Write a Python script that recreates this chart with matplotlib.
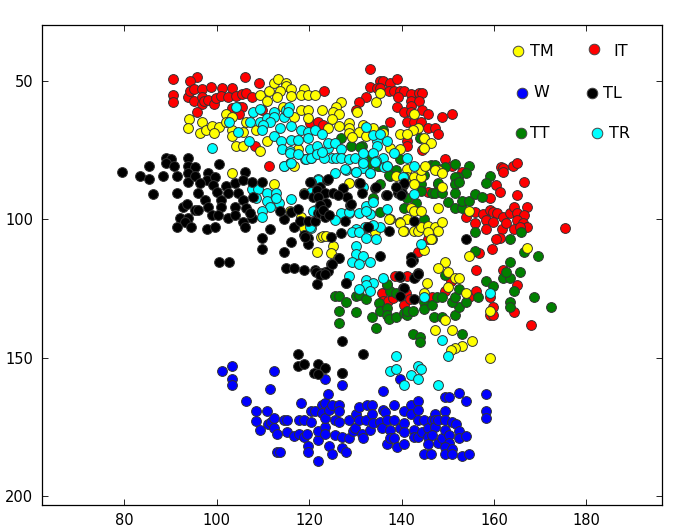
import matplotlib
matplotlib.use('Agg')
from matplotlib import pyplot as plt

it_x = [90.6, 95.8, 94.3, 106.2, 109.2, 90.6, 90.6, 93.7, 94.2, 95.1, 96.9, 98.8, 101.2, 103.2, 95.1, 96.7, 96.7, 97.2,
        98.1, 99.4, 99.9, 101.0, 102.5, 104.2, 105.5, 106.4, 107.7, 95.8, 103.2, 104.8, 105.5, 104.8, 109.9, 108.3,
        111.4, 123.3, 120.1, 122.0, 123.0,
        133.2, 133.2, 135.4, 136.1, 137.5, 139.1, 134.7, 135.4, 137.4, 138.4, 139.7, 140.6, 139.2, 142.1, 143.7, 144.4,
        142.1, 143.7, 142.1, 132.4, 130.9, 130.1, 139.1, 140.6, 142.1, 144.4, 145.7, 148.8, 150.9, 137.6, 141.2, 142.7,
        144.2, 145.8, 147.3, 148.0, 141.2, 141.2, 144.4, 149.4, 150.9, 153.2, 161.6, 162.0, 162.0, 164.2, 165.0, 166.5,
        160.4, 161.3, 165.0, 159.1, 154.0, 156.0, 156.0, 157.7, 159.1, 159.9, 160.6, 162.0, 158.4, 159.9, 158.4, 161.8,
        162.7, 163.4, 164.3, 167.2, 165.0, 166.5, 165.0, 164.3, 166.3, 167.2, 165.6, 161.3, 160.4, 156.8, 159.7, 145.7,
        145.8, 143.5, 175.4,
        138.6, 141.1, 135.7, 135.9, 137.1, 138.2, 140.5, 141.0, 141.8, 146.5, 149.4, 150.8, 154.7, 156.1, 156.1, 161.9,
        165.0, 159.1, 159.9, 159.1, 159.9, 164.3, 168.0]
it_y = [49.4, 48.7, 50.2, 48.7, 50.8, 55.2, 57.7, 55.9, 53.8, 52.9, 53.0, 52.3, 52.4, 52.4, 57.1, 55.9, 58.4, 57.1,
        56.9, 58.4, 56.3, 55.3, 56.0, 55.3, 54.6, 54.4, 55.9, 61.3, 59.9, 59.3, 59.3, 62.0, 60.7, 73.5,
        80.6, 53.8, 65.3, 64.9, 65.9,
        45.8, 52.3, 50.2, 50.2, 50.8, 49.4, 52.6, 52.6, 53.8, 53.8, 53.5, 53.5, 55.7, 54.8, 54.4, 54.4,
        57.1, 57.1, 58.9, 55.9, 57.7, 60.5, 59.3, 61.3, 61.3, 60.7, 62.0, 62.9, 62.0, 64.9, 64.9, 64.9,
        64.9, 67.1, 67.1, 69.3, 71.9, 73.5, 74.9, 78.3, 80.6, 82.8, 81.0, 81.6, 83.0, 80.6, 79.7, 86.4,
        87.6, 90.3, 91.2, 92.4, 99.1, 97.3, 101.5, 98.2, 96.7, 97.3, 97.6, 99.1, 100.3, 101.1, 103.5, 103.5,
        101.5, 97.6, 95.5, 95.5, 97.6, 98.5, 100.3, 103.5, 101.5, 102.7, 102.7, 106.9, 107.3, 112.3, 110.9, 90.3,
        107.3, 111.7, 103.0,
        120.5, 120.5, 126.5, 129.4, 129.4, 128.6, 131.0, 126.7, 128.9, 128.2, 125.8, 122.2, 128.2, 125.8, 118.3, 118.3,
        123.7, 128.2, 131.6, 134.6, 134.6, 133.7, 138.4]

w_x = [101.1, 103.3, 103.3, 103.3, 112.4, 111.5, 106.4, 108.5, 110.8, 108.5, 109.4, 111.0, 111.7, 112.4, 112.4, 113.1,
       113.1, 113.7, 114.6, 115.3, 115.3, 116.7, 117.7, 117.7, 118.3, 118.9, 118.9, 119.6, 120.4, 120.4, 121.3, 119.7,
       119.7, 121.9, 121.9, 121.9, 122.7, 122.7, 123.5, 123.5, 123.5, 123.5, 124.1, 124.2, 124.9, 124.2, 124.9, 125.6,
       126.4, 126.5, 126.5, 125.6, 127.1, 127.1, 127.9, 127.1, 123.5, 128.7, 128.7, 129.4, 130.0, 130.2, 130.8, 130.8,
       131.5, 131.6, 132.3, 132.5, 133.6, 133.6, 133.2, 133.8, 135.4, 135.7, 135.9, 135.9, 136.4, 136.8, 136.8, 137.5,
       137.5, 138.4, 138.4, 138.4, 139.0, 139.7, 139.7, 140.6, 140.6, 140.6, 140.6, 142.1, 142.1, 142.7, 142.7, 143.6,
       143.6, 143.6, 143.6, 144.4, 144.9, 144.9, 145.8, 145.8, 145.8, 146.4, 146.5, 147.3, 147.3, 147.3, 146.5, 148.0,
       148.0, 148.7, 149.4, 149.4, 149.4, 149.4, 150.2, 150.2, 150.2, 149.4, 149.4, 151.0, 151.0, 150.9, 151.7, 152.5,
       152.5, 152.5, 154.0, 154.0, 153.2, 154.7, 158.3, 158.3, 158.3]
w_y = [154.9, 153.1, 157.9, 160.0, 154.9, 161.5, 165.8, 169.4, 169.4, 173.0, 176.2, 174.1, 173.2, 172.0, 175.6, 177.8,
       184.3, 184.3, 172.6, 172.6, 176.8, 178.4, 172.6, 177.8, 166.4, 172.6, 178.9, 177.8, 173.2, 169.4, 169.4, 182.0,
       184.3, 179.8, 176.5, 187.4, 167.2, 170.2, 166.4, 175.0, 177.7, 172.0, 163.0, 169.0, 167.2, 182.0, 185.0, 172.6,
       167.2, 169.4, 173.2, 178.0, 178.6, 182.6, 184.3, 160.0, 157.9, 172.6, 179.2, 176.5, 175.6, 170.4, 167.8, 172.6,
       177.8, 179.2, 172.6, 167.2, 167.2, 170.4, 176.2, 173.6, 173.2, 175.6, 169.0, 162.1, 169.6, 172.6, 181.4, 176.2,
       179.2, 167.2, 172.6, 179.2, 182.3, 157.8, 175.6, 169.4, 173.6, 176.8, 181.4, 167.2, 170.4, 176.2, 178.6, 165.8,
       168.8, 172.6, 178.9, 176.8, 172.6, 185.0, 175.3, 178.6, 181.4, 185.0, 172.6, 170.4, 172.6, 175.0, 178.0, 181.0,
       172.6, 179.2, 169.4, 172.6, 176.2, 164.4, 164.4, 178.0, 181.0, 182.3, 185.0, 182.9, 185.0, 173.2, 174.1, 162.7,
       176.5, 179.2, 165.8, 178.4, 185.6, 185.0, 163.0, 169.4, 172.0]

tt_x = [126.9, 129.0, 131.4, 136.0, 144.0, 139.7, 135.2, 133.2, 137.5, 138.9, 144.2, 146.4, 147.2, 149.5, 151.6, 154.7,
        153.9, 152.3, 151.6, 151.6, 152.4, 159.1, 158.3, 147.9, 144.8, 135.3, 131.0, 132.8, 135.0,
        151.6, 147.9, 146.5, 147.3, 144.2, 141.2, 140.5, 143.1, 137.3, 133.9, 135.3, 144.8, 148.7, 150.1, 151.6, 153.1,
        153.1, 154.6, 156.0, 157.5, 156.0, 163.5, 165.8, 146.7, 156.0, 166.6, 169.6, 163.5, 165.6, 161.9, 163.5, 162.7,
        164.3, 168.7, 136.8, 137.5,
        125.6, 126.4, 128.0, 126.4, 126.4, 130.1, 130.1, 130.8, 132.3, 133.7, 134.5, 135.2, 135.3, 136.9, 138.9, 136.9,
        136.9, 137.3, 138.9, 140.5, 141.2, 141.2, 142.5, 144.9, 144.9, 146.5, 147.6, 148.7, 147.0, 148.8, 151.6, 152.5,
        150.9, 151.6, 152.4, 153.9, 156.6, 158.3, 159.9, 163.5, 163.5, 172.4, 153.1, 142.5, 144.1, 144.0, 149.4]
tt_y = [70.7, 73.5, 73.5, 67.7, 70.8, 78.3, 80.7, 79.8, 84.3, 82.2, 87.2, 80.4, 80.4, 81.2, 79.9, 80.6,
        83.4, 84.8, 84.8, 87.2, 86.7, 84.2, 87.0, 87.2, 84.0, 87.2, 74.0, 77.3, 80.7,
        90.4, 87.0, 90.4, 90.4, 89.7, 92.4, 96.0, 94.2, 84.0, 92.4, 97.5, 99.9, 90.4, 93.6, 96.0, 96.0,
        93.3, 93.3, 91.0, 91.8, 104.7, 107.3, 104.7, 107.3, 111.5, 111.7, 113.2, 115.3, 118.9, 121.1, 121.1, 118.9,
        125.8, 128.0, 123.8, 125.8,
        127.9, 127.9, 130.1, 133.0, 137.4, 133.7, 127.9, 127.4, 128.7, 135.2, 139.4, 130.4, 133.0, 123.4, 126.7, 132.2,
        134.6, 136.1, 135.2, 134.0, 134.6, 133.0, 133.0, 129.8, 132.4, 131.0, 128.2, 128.2, 135.2, 135.2, 134.6, 131.6,
        130.1, 128.0, 125.3, 129.8, 128.0, 122.2, 124.3, 130.1, 131.6, 131.6, 141.4, 141.4, 142.7, 144.3, 120.1]

tm_x = [93.9, 93.7, 96.8, 96.3, 97.6, 98.9, 100.4, 99.5, 102.0, 103.3, 102.0, 103.3, 103.3, 106.3, 105.6, 108.5, 104.1,
        105.6, 109.3, 110.8, 103.3, 112.3, 109.3, 110.8, 111.4, 112.3, 113.3, 115.0, 115.1, 113.7, 116.1, 118.8, 116.1,
        118.2, 119.7, 121.2, 113.0, 114.4, 116.8, 118.2, 119.7, 119.7, 122.8, 127.0, 125.8, 125.2, 126.4, 124.9, 130.3,
        134.5, 135.3, 124.0, 126.4, 128.6, 128.6, 128.6, 131.7, 130.8, 132.4, 129.2, 117.6, 116.8,
        142.7, 143.5, 142.5, 139.7, 141.2, 144.8, 146.4, 144.8, 139.7, 137.5, 133.9, 136.0, 141.2, 141.2, 142.7, 144.2,
        144.2, 145.1, 147.9, 147.2, 148.8, 138.9, 142.7, 148.8, 128.7, 142.0, 142.7, 144.2, 147.9, 154.6, 137.5, 139.7,
        141.2, 140.5, 142.7, 143.5, 144.2, 145.7, 147.2, 148.7, 148.0, 145.7, 146.4, 144.9, 154.6, 167.2, 149.5, 147.9,
        150.0, 151.6, 152.5, 150.0, 145.6, 153.9, 144.8,
        159.1, 149.4, 147.2, 150.9, 155.2, 153.1, 151.6, 150.8, 159.1,
        118.8, 115.8, 118.2, 118.8, 122.6, 123.1, 123.7, 125.2, 121.8, 124.8, 126.3, 137.4, 139.6, 140.3, 134.3]
tm_y = [63.6, 67.2, 64.9, 68.7, 67.9, 66.3, 66.5, 68.7, 62.0, 62.9, 64.7, 67.7, 70.1, 64.9, 68.5, 67.7, 73.4,
        73.4, 75.5, 71.6, 83.4, 87.1, 55.2, 57.1, 53.8, 50.8, 49.4, 50.8, 52.0, 53.8, 53.0, 53.0, 55.4,
        55.2, 55.2, 55.2, 55.9, 59.3, 62.9, 60.7, 60.7, 63.5, 60.7, 57.8, 59.3, 61.3, 62.0, 63.6, 61.3,
        57.7, 54.4, 67.2, 66.3, 65.3, 67.2, 68.9, 65.9, 68.5, 70.1, 70.4, 74.7, 80.6,
        62.0, 67.2, 67.9, 69.3, 69.3, 70.8, 72.3, 74.1, 74.7, 74.1, 67.2, 68.7, 81.9, 84.8, 84.8, 84.8,
        82.2, 80.7, 82.2, 82.2, 83.4, 84.2, 87.2, 88.2, 87.0, 96.0, 96.9, 96.9, 96.0, 96.9, 99.9, 101.1,
        99.9, 104.1, 104.1, 104.1, 102.7, 102.3, 102.7, 101.1, 104.1, 104.7, 107.3, 111.1, 113.2, 110.3, 115.3, 117.5,
        118.9, 121.1, 121.1, 124.4, 122.9, 126.5, 126.5,
        133.0, 136.6, 140.0, 140.0, 144.2, 145.8, 146.4, 147.2, 150.1,
        90.6, 96.9, 99.1, 103.3, 106.6, 106.1, 106.1, 109.7, 111.7, 112.3, 113.9, 99.8, 101.2, 104.1, 104.6]

tr_x = [98.9, 104.2, 102.6, 104.7, 107.0, 107.8, 109.3, 107.1, 109.3, 110.8, 112.4, 112.4, 111.5, 110.1, 109.9, 113.7,
        112.4, 114.0, 114.2, 114.5, 115.0, 115.7, 115.5, 116.1, 118.2, 119.7, 121.2, 122.8, 119.7, 116.0, 117.6, 115.8,
        114.5, 115.8, 119.2, 120.3, 120.2, 121.8, 121.6, 124.0, 124.0, 125.6, 127.0, 124.9, 125.9, 127.0, 128.6, 130.0,
        131.7, 132.4, 134.6, 133.9, 135.3, 134.6, 133.9, 136.0, 131.7, 128.0, 130.1, 131.7, 133.2, 136.2,
        136.9, 138.4, 134.5, 136.9, 141.2, 142.7, 140.5, 142.7,
        136.8, 132.3, 133.9, 133.2, 130.8, 128.6, 127.0, 132.3, 135.3, 133.9, 132.1, 130.1, 129.2, 130.8, 132.3, 134.5,
        130.1, 130.1, 131.6, 129.2, 130.8, 133.2, 144.2, 128.6, 132.3, 133.9, 132.3, 133.2, 130.8, 136.0, 144.9, 159.2,
        138.9, 137.5, 138.9, 143.5, 144.2, 142.0, 143.5, 140.5, 147.9, 150.0, 148.7,
        107.7, 109.0, 110.8, 112.9, 108.6, 110.8, 113.4, 111.5, 109.7, 109.8, 112.9, 116.0, 114.5, 116.0, 119.4, 120.4,
        121.8, 115.8, 117.6, 122.0, 120.3, 121.2, 120.3, 123.2, 122.7, 120.8, 120.1, 121.9, 125.5, 127.8, 130.1, 133.1,
        131.7, 134.3, 136.9, 140.3, 131.7, 128.6, 125.5]
tr_y = [74.1, 59.3, 64.9, 68.5, 71.6, 61.3, 60.0, 64.9, 64.9, 63.5, 61.3, 62.9, 64.9, 66.1, 67.7, 67.2,
        70.1, 71.6, 74.7, 62.9, 60.7, 59.3, 61.3, 66.3, 67.7, 68.5, 67.7, 69.3, 70.8, 71.3, 71.3, 75.5,
        80.6, 79.8, 78.3, 77.7, 74.7, 76.1, 73.7, 74.1, 72.5, 72.3, 74.7, 77.7, 77.7, 77.7, 78.3, 77.7,
        79.1, 66.5, 71.6, 69.5, 69.1, 73.5, 76.1, 77.7, 76.1, 82.2, 82.8, 81.6, 83.4, 81.0,
        71.6, 76.1, 79.1, 80.7, 77.7, 80.6, 84.8, 91.0,
        96.2, 95.2, 93.9, 98.2, 97.6, 97.6, 97.6, 96.9, 102.7, 102.1, 102.7, 103.4, 104.7, 104.7, 106.8, 107.3,
        109.6, 112.6, 113.3, 115.3, 116.2, 115.3, 109.0, 120.4, 122.0, 122.9, 123.8, 125.8, 125.2, 121.1, 128.0, 126.5,
        149.4, 154.8, 154.1, 153.0, 154.1, 156.3, 157.7, 159.9, 159.9, 149.4, 143.6,
        88.9, 88.9, 90.4, 90.4, 92.2, 93.3, 94.0, 95.5, 96.9, 99.1, 92.2, 92.6, 80.7, 79.8, 78.4, 78.0,
        76.4, 76.2, 76.4, 85.6, 90.1, 96.7, 103.0, 78.0, 75.6, 96.9, 102.7, 85.8, 83.4, 82.0, 82.8, 83.4,
        79.8, 79.2, 80.6, 84.9, 88.5, 97.3, 100.3]

tl_x = [79.5, 83.3, 85.4, 85.4, 86.2, 88.4, 89.1, 90.0, 89.1, 90.7, 91.5, 93.7, 93.7, 95.3, 93.7, 93.7, 100.5, 106.2,
        98.2, 95.3, 97.8, 99.6, 96.3, 99.2, 102.1, 103.9, 105.6, 107.7, 109.9, 96.0, 91.5, 100.0, 102.5, 104.7, 97.4,
        101.0, 105.7, 107.9, 92.6, 93.5, 95.3, 96.0, 98.2, 101.0, 103.9, 98.9, 100.3, 102.5, 103.9, 106.4, 107.7, 107.2,
        92.0, 93.7, 93.1, 91.5, 94.4, 97.9, 99.6, 105.7, 106.2, 111.5, 109.9, 109.9, 100.5, 102.6, 114.5, 113.7, 116.0,
        117.6, 116.7, 116.0, 114.5, 118.9, 119.8, 119.8, 120.3, 122.3, 118.9, 121.6, 120.9, 118.0, 119.8, 121.2, 122.0,
        122.3, 123.8, 115.1, 116.7, 118.9, 121.2, 122.3, 123.4,
        120.1, 124.1, 121.8, 123.4, 121.9, 123.7, 125.2, 127.3, 128.1, 128.9, 126.2, 130.9, 131.5, 134.3, 136.7, 139.2,
        140.3, 139.2, 140.0, 142.7, 137.4, 132.7, 127.8, 127.0, 124.8, 119.2, 122.3, 122.3, 123.4, 123.0, 124.4, 135.3,
        142.5, 142.1, 124.8, 121.4, 122.4, 124.1, 123.4, 127.9, 121.7, 139.6, 143.6, 143.0, 140.3,
        127.1, 131.6, 127.1, 128.0, 139.5, 140.5, 139.7, 142.7, 142.0, 142.7, 143.5,
        131.0, 134.5, 136.9, 139.3, 140.5, 138.9, 139.8, 129.0, 132.8, 153.9, 126.4, 125.0,
        117.5, 117.5, 118.9, 121.9, 123.5, 121.1, 121.9, 127.1]
tl_y = [82.8, 84.3, 80.7, 85.6, 91.0, 84.3, 77.7, 78.4, 79.8, 80.7, 84.3, 77.7, 80.7, 81.3, 83.4, 86.4, 79.9, 82.8,
        83.4, 84.3, 85.8, 84.9, 87.0, 87.7, 88.0, 87.0, 85.8, 86.4, 86.4, 90.4, 90.4, 90.1, 90.4, 90.4, 93.1,
        93.1, 93.1, 91.9, 95.5, 94.6, 96.7, 96.7, 95.5, 95.5, 95.5, 98.5, 98.5, 99.7, 98.5, 96.1, 99.7, 97.9,
        99.7, 99.7, 100.9, 102.7, 102.7, 103.4, 102.7, 101.0, 102.7, 103.4, 106.7, 110.9, 115.4, 115.4, 99.9, 96.9, 97.5,
        96.2, 102.7, 108.1, 111.7, 105.7, 106.9, 109.0, 86.4, 88.3, 91.0, 90.7, 91.9, 100.5, 100.5, 100.5, 97.9,
        95.5, 85.8, 117.5, 117.5, 118.4, 118.4, 119.6, 119.0,
        86.4, 85.6, 89.4, 90.6, 91.9, 94.3, 90.6, 88.8, 91.9, 94.9, 91.3, 87.0, 90.6, 88.6, 91.3, 90.6,
        87.6, 88.8, 90.6, 100.5, 104.1, 102.7, 100.5, 104.9, 106.6, 106.3, 94.9, 97.9, 99.1, 96.7, 98.5, 113.3,
        114.8, 113.5, 116.2, 119.0, 120.2, 118.7, 119.9, 122.9, 123.5, 120.8, 119.6, 121.0, 125.0,
        144.2, 148.7, 155.7, 122.9, 120.7, 124.9, 127.9, 128.8, 115.3, 121.3, 119.8,
        87.0, 88.5, 91.2, 90.0, 87.0, 88.2, 91.2, 94.6, 102.7, 107.3, 113.9, 116.2,
        148.8, 153.1, 152.4, 152.4, 153.9, 155.7, 156.1, 155.5]

# drawn in this order, later ones sit on top
series = [(w_x, w_y, 'blue'), (it_x, it_y, 'red'), (tt_x, tt_y, 'green'),
          (tm_x, tm_y, 'yellow'), (tr_x, tr_y, 'cyan'), (tl_x, tl_y, 'black')]

# hand placed key, pixel positions in the figure
key_names = ['TM', 'IT', 'W', 'TL', 'TT', 'TR']
key_colors = ['yellow', 'red', 'blue', 'black', 'green', 'cyan']
key_marker_px = [(518.3, 51), (594.3, 49.3), (521.7, 92.7), (591.7, 92.7), (520.7, 133.3), (597.3, 132.7)]
key_text_px = [(530, 51.7), (613.3, 52), (533.3, 92.5), (602.7, 93), (530, 133), (609.3, 133)]

W, H = 683, 528

fig = plt.figure(figsize=(W / 100, H / 100), dpi=100)
ax = fig.add_axes([41.7 / W, 1 - 505 / H, (662 - 41.7) / W, (505 - 25) / H])

for x, y, c in series:
    ax.scatter(x, y, s=50, c=c, edgecolors='#333333', linewidths=0.7)

ax.set_xlim(62.1, 196.4)
ax.set_ylim(203.3, 29.8)
ax.set_xticks([80, 100, 120, 140, 160, 180])
ax.set_yticks([50, 100, 150, 200])
ax.tick_params(direction='in', top=True, right=True, length=4.5, width=0.6, labelsize=10.5, pad=6)
for s in ax.spines.values():
    s.set_linewidth(0.9)

for name, c, mp, tp in zip(key_names, key_colors, key_marker_px, key_text_px):
    ax.scatter(mp[0] / W, 1 - mp[1] / H, s=58, c=c, edgecolors='#444444', linewidths=0.7,
               transform=fig.transFigure, clip_on=False)
    fig.text(tp[0] / W, 1 - tp[1] / H, name, fontsize=11.5, va='center', ha='left', family='DejaVu Sans')

fig.savefig('out.png', dpi=100)
